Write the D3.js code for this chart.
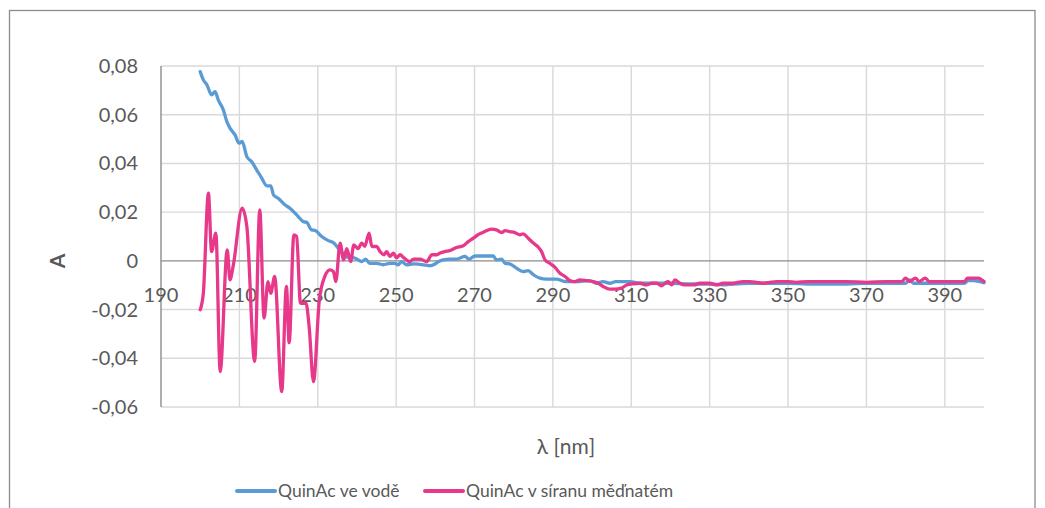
<!DOCTYPE html>
<html>
<head>
<meta charset="utf-8">
<script src="https://cdn.jsdelivr.net/npm/d3@7"></script>
<style>
  html, body { margin: 0; padding: 0; background: #fff; }
  svg { display: block; }
  text { font-family: Lato, "Open Sans", sans-serif; fill: #595959; }
</style>
</head>
<body>
<svg id="chart" width="1045" height="508"></svg>
<script>
// Absorbance spectra of QuinAc, wavelength in nm
const waterWl = [200.0,200.8,201.7,202.9,203.8,204.6,205.9,206.8,207.6,208.9,209.9,210.7,211.9,213.1,214.4,215.7,217.0,218.0,218.7,219.9,221.6,222.9,224.2,225.0,226.3,227.2,228.4,229.3,231.0,232.7,234.0,235.2,236.5,237.5,238.6,240.0,241.2,242.2,243.2,245.0,246.7,248.4,249.6,250.5,251.4,252.6,254.5,256.0,258.6,259.8,260.8,262.0,263.7,265.4,267.6,268.6,270.1,272.2,274.8,275.6,276.9,277.8,279.0,280.7,282.4,283.7,285.0,286.7,288.4,290.9,293.1,296.0,299.4,301.1,302.8,304.5,306.0,309.7,312.0,315.0,320.0,325.0,330.0,333.4,336.0,340.0,345.0,350.0,355.0,360.0,365.0,370.0,375.0,380.0,381.0,382.0,390.0,395.0,396.0,399.0,400.0];
const waterA  = [0.0777,0.0743,0.0723,0.0682,0.0695,0.0661,0.0620,0.0572,0.0545,0.0517,0.0483,0.0490,0.0428,0.0408,0.0374,0.0340,0.0308,0.0308,0.0271,0.0257,0.0230,0.0216,0.0196,0.0182,0.0161,0.0158,0.0127,0.0125,0.0100,0.0083,0.0075,0.0052,0.0028,0.0015,0.0015,0.0007,-0.0003,0.0007,-0.0010,-0.0010,-0.0016,-0.0010,-0.0010,-0.0016,-0.0003,-0.0016,-0.0012,-0.0014,-0.0020,-0.0014,-0.0003,0.0004,0.0007,0.0007,0.0018,0.0007,0.0020,0.0020,0.0020,0.0004,0.0007,-0.0010,-0.0012,-0.0030,-0.0044,-0.0040,-0.0057,-0.0071,-0.0075,-0.0075,-0.0085,-0.0085,-0.0081,-0.0092,-0.0085,-0.0092,-0.0085,-0.0085,-0.0092,-0.0092,-0.0092,-0.0095,-0.0095,-0.0099,-0.0095,-0.0092,-0.0092,-0.0092,-0.0095,-0.0095,-0.0095,-0.0092,-0.0092,-0.0092,-0.0078,-0.0092,-0.0092,-0.0092,-0.0080,-0.0085,-0.0090];

const copperWl = [200.0,200.8,202.1,202.9,204.0,205.1,206.9,207.6,208.4,210.7,211.9,213.9,215.2,216.3,217.3,218.0,219.0,220.8,222.0,222.7,223.9,224.6,225.6,227.0,227.8,228.9,230.4,231.8,233.1,234.0,234.6,235.7,236.6,237.4,238.4,239.2,240.3,241.2,242.0,243.1,243.8,245.0,245.9,246.9,247.6,248.4,249.3,250.1,251.0,252.0,253.5,254.4,256.1,257.8,259.1,260.3,261.2,262.4,263.7,265.4,267.1,268.4,269.7,270.9,271.8,273.1,274.4,275.6,276.9,277.8,279.0,280.3,281.6,282.4,283.7,285.0,286.3,287.1,288.0,289.2,290.5,291.8,293.1,294.3,295.6,296.9,298.6,300.3,301.5,302.8,304.5,305.8,307.5,308.8,310.5,312.2,313.9,315.2,316.5,317.7,318.6,319.4,320.3,321.1,322.4,323.7,326.0,327.5,330.0,331.8,333.4,336.0,338.5,340.2,342.0,343.6,345.3,347.1,350.0,352.0,355.0,360.0,365.0,370.0,375.0,379.0,380.0,381.0,382.5,383.5,385.0,386.0,390.0,395.0,395.8,398.5,400.0];
const copperA  = [-0.0201,-0.0133,0.0278,0.0038,0.0114,-0.0455,0.0045,-0.0078,-0.0023,0.0216,0.0141,-0.0413,0.0209,-0.0235,-0.0085,-0.0133,-0.0064,-0.0537,-0.0105,-0.0336,0.0107,0.0100,-0.0174,-0.0174,-0.0270,-0.0496,-0.0160,-0.0064,-0.0037,-0.0044,-0.0085,0.0073,0.0004,0.0050,-0.0003,0.0066,0.0050,0.0073,0.0060,0.0114,0.0059,0.0059,0.0038,0.0025,0.0038,0.0018,0.0032,0.0012,0.0025,0.0012,-0.0003,0.0007,0.0007,-0.0003,0.0025,0.0025,0.0032,0.0038,0.0042,0.0055,0.0062,0.0079,0.0093,0.0107,0.0114,0.0124,0.0130,0.0127,0.0116,0.0124,0.0120,0.0116,0.0107,0.0111,0.0093,0.0073,0.0056,0.0038,0.0004,-0.0010,-0.0026,-0.0051,-0.0064,-0.0081,-0.0085,-0.0078,-0.0081,-0.0085,-0.0092,-0.0105,-0.0116,-0.0116,-0.0112,-0.0099,-0.0094,-0.0092,-0.0099,-0.0092,-0.0092,-0.0103,-0.0092,-0.0085,-0.0099,-0.0078,-0.0092,-0.0099,-0.0099,-0.0092,-0.0092,-0.0099,-0.0092,-0.0092,-0.0085,-0.0085,-0.0088,-0.0092,-0.0088,-0.0085,-0.0085,-0.0088,-0.0085,-0.0085,-0.0085,-0.0088,-0.0085,-0.0085,-0.0071,-0.0085,-0.0071,-0.0085,-0.0071,-0.0085,-0.0085,-0.0085,-0.0071,-0.0071,-0.0085];

const xTicks = [190,210,230,250,270,290,310,330,350,370,390];
const yTicks = [-0.06,-0.04,-0.02,0,0.02,0.04,0.06,0.08];
const seriesNames = ["QuinAc ve vodě", "QuinAc v síranu měďnatém"];
const seriesColors = ["#5B9BD5", "#E8388A"];

const svg = d3.select("#chart");

// chart frame
svg.append("rect")
  .attr("x", 9.5).attr("y", 10.5)
  .attr("width", 1025.5).attr("height", 520)
  .attr("fill", "#fff").attr("stroke", "#8c8c8c").attr("stroke-width", 1.3);

const x = d3.scaleLinear().domain([190, 400]).range([161, 984]);
const y = d3.scaleLinear().domain([-0.06, 0.08]).range([407, 66]);

const fmt = v => Math.abs(v) < 1e-9 ? "0" : d3.format(".2f")(v).replace(".", ",").replace("−", "-");

// horizontal gridlines
svg.append("g").selectAll("line").data(yTicks.filter(v => Math.abs(v) > 1e-9)).join("line")
  .attr("x1", x(190)).attr("x2", x(400))
  .attr("y1", d => y(d)).attr("y2", d => y(d))
  .attr("stroke", "#d9d9d9").attr("stroke-width", 1.4);

// vertical gridlines
svg.append("g").selectAll("line").data(xTicks.slice(1)).join("line")
  .attr("x1", d => x(d)).attr("x2", d => x(d))
  .attr("y1", y(0.08)).attr("y2", y(-0.06))
  .attr("stroke", "#d9d9d9").attr("stroke-width", 1.4);

// axes lines
svg.append("line")
  .attr("x1", x(190)).attr("x2", x(190)).attr("y1", y(0.08)).attr("y2", y(-0.06))
  .attr("stroke", "#8c8c8c").attr("stroke-width", 1.4);
svg.append("line")
  .attr("x1", x(190)).attr("x2", x(400)).attr("y1", y(0)).attr("y2", y(0))
  .attr("stroke", "#8c8c8c").attr("stroke-width", 1.4);

// y tick labels
svg.append("g").selectAll("text").data(yTicks).join("text")
  .attr("x", 138).attr("y", d => y(d)).attr("dy", "0.35em")
  .attr("text-anchor", "end").style("font-size", "20px")
  .text(fmt);

// x tick labels, sitting under the zero line
svg.append("g").selectAll("text").data(xTicks).join("text")
  .attr("x", d => x(d)).attr("y", y(0) + 41)
  .attr("text-anchor", "middle").style("font-size", "20px")
  .text(d => d);

// axis titles
svg.append("text")
  .attr("transform", `translate(65,${y(0)}) rotate(-90)`)
  .attr("text-anchor", "middle")
  .style("font-size", "21px").style("font-weight", "bold")
  .text("A");
svg.append("text")
  .attr("x", 566).attr("y", 454)
  .attr("text-anchor", "middle").style("font-size", "21px")
  .text("λ [nm]");

// series lines
const line = d3.line()
  .x(d => x(d[0])).y(d => y(d[1]))
  .curve(d3.curveMonotoneX);

const series = [
  d3.zip(waterWl, waterA),
  d3.zip(copperWl, copperA)
];

svg.append("g").selectAll("path").data(series).join("path")
  .attr("d", line)
  .attr("fill", "none")
  .attr("stroke", (d, i) => seriesColors[i])
  .attr("stroke-width", 3.3)
  .attr("stroke-linejoin", "round")
  .attr("stroke-linecap", "round");

// legend
const legendX = [237, 425];
const lg = svg.append("g").selectAll("g").data(seriesNames).join("g")
  .attr("transform", (d, i) => `translate(${legendX[i]},491)`);
lg.append("line")
  .attr("x1", 0).attr("x2", 38)
  .attr("stroke", (d, i) => seriesColors[i])
  .attr("stroke-width", 4).attr("stroke-linecap", "round");
lg.append("text")
  .attr("x", 41).attr("dy", "0.35em")
  .style("font-size", "17.5px")
  .text(d => d);
</script>
</body>
</html>
